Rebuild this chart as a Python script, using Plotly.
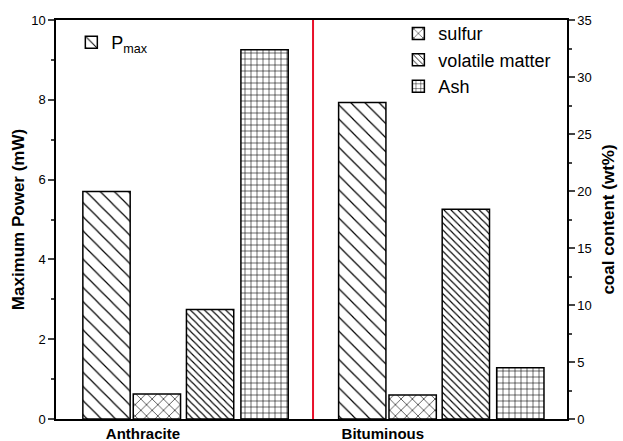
import numpy as np
import plotly.graph_objects as go

categories = ["Anthracite", "Bituminous"]
p_max = [5.70, 7.93]            # mW, left axis
sulfur = [2.2, 2.1]             # wt%, right axis
volatile_matter = [9.6, 18.4]   # wt%, right axis
ash = [32.4, 4.5]               # wt%, right axis

x = np.arange(len(categories))
FONT = "Arial, Liberation Sans, sans-serif"

BAR_W = 0.185


def pattern(shape, size, solidity):
    return dict(shape=shape, size=size, solidity=solidity,
                fgcolor="black", bgcolor="white", fillmode="replace")


fig = go.Figure()
fig.add_trace(go.Bar(
    x=x, y=p_max, name="P<sub>max</sub>", width=BAR_W, offset=-0.40,
    marker=dict(color="white", line=dict(color="black", width=1.5),
                pattern=pattern("\\", 10, 0.12)),
    legend="legend", yaxis="y", showlegend=True))
fig.add_trace(go.Bar(
    x=x, y=sulfur, name="sulfur", width=BAR_W, offset=-0.203,
    marker=dict(color="white", line=dict(color="black", width=1.5),
                pattern=pattern("x", 8, 0.15)),
    legend="legend2", yaxis="y2", showlegend=True))
fig.add_trace(go.Bar(
    x=x, y=volatile_matter, name="volatile matter", width=BAR_W, offset=0.005,
    marker=dict(color="white", line=dict(color="black", width=1.5),
                pattern=pattern("\\", 5, 0.22)),
    legend="legend2", yaxis="y2", showlegend=True))
fig.add_trace(go.Bar(
    x=x, y=ash, name="Ash", width=BAR_W, offset=0.218,
    marker=dict(color="white", line=dict(color="black", width=1.5),
                pattern=pattern("+", 6, 0.18)),
    legend="legend2", yaxis="y2", showlegend=True))

sep = float(np.mean(x))
fig.add_shape(type="line", xref="x", yref="paper", x0=sep, x1=sep, y0=0, y1=1,
              line=dict(color="#e8102a", width=2))

fig.update_layout(
    template="none",
    width=623, height=441,
    margin=dict(l=56, r=56, t=20, b=22),
    paper_bgcolor="white", plot_bgcolor="white",
    font=dict(family=FONT, color="black"),
    barmode="overlay",
    showlegend=True,
    xaxis=dict(range=[-0.505, 1.493], showgrid=False, zeroline=False,
               showline=True, linecolor="black", linewidth=1.5, mirror=True,
               ticks="", tickmode="array", tickvals=[-0.165, 0.773],
               ticktext=categories, automargin=False, ticklabelstandoff=0,
               tickfont=dict(family=FONT, size=15, color="black", weight="bold")),
    yaxis=dict(range=[0, 10], dtick=2, showgrid=False, zeroline=False,
               showline=True, linecolor="black", linewidth=1.5,
               ticks="outside", ticklen=6, tickwidth=1.5, automargin=False,
               minor=dict(dtick=1, ticks="outside", ticklen=3, tickwidth=1.5),
               tickfont=dict(family=FONT, size=13),
               title=dict(text="<b>Maximum Power (mW)</b>", standoff=2,
                          font=dict(family=FONT, size=17))),
    yaxis2=dict(range=[0, 35], dtick=5, overlaying="y", side="right",
                showgrid=False, zeroline=False,
                showline=True, linecolor="black", linewidth=1.5,
                ticks="outside", ticklen=6, tickwidth=1.5, automargin=False,
                minor=dict(dtick=2.5, ticks="outside", ticklen=3, tickwidth=1.5),
                tickfont=dict(family=FONT, size=13),
                title=dict(text="<b>coal content (wt%)</b>", standoff=11,
                           font=dict(family=FONT, size=17))),
    legend=dict(visible=True, x=0.03, y=0.99, xanchor="left", yanchor="top",
                bgcolor="rgba(0,0,0,0)", borderwidth=0,
                font=dict(family=FONT, size=18)),
    legend2=dict(visible=True, x=0.67, y=1.012, xanchor="left", yanchor="top",
                 bgcolor="rgba(0,0,0,0)", borderwidth=0, tracegroupgap=0,
                 font=dict(family=FONT, size=18)),
)

fig.write_html(
    "out.html",
    config={"displayModeBar": False},
    post_script="document.body.style.margin='0';document.body.style.padding='0';",
)
